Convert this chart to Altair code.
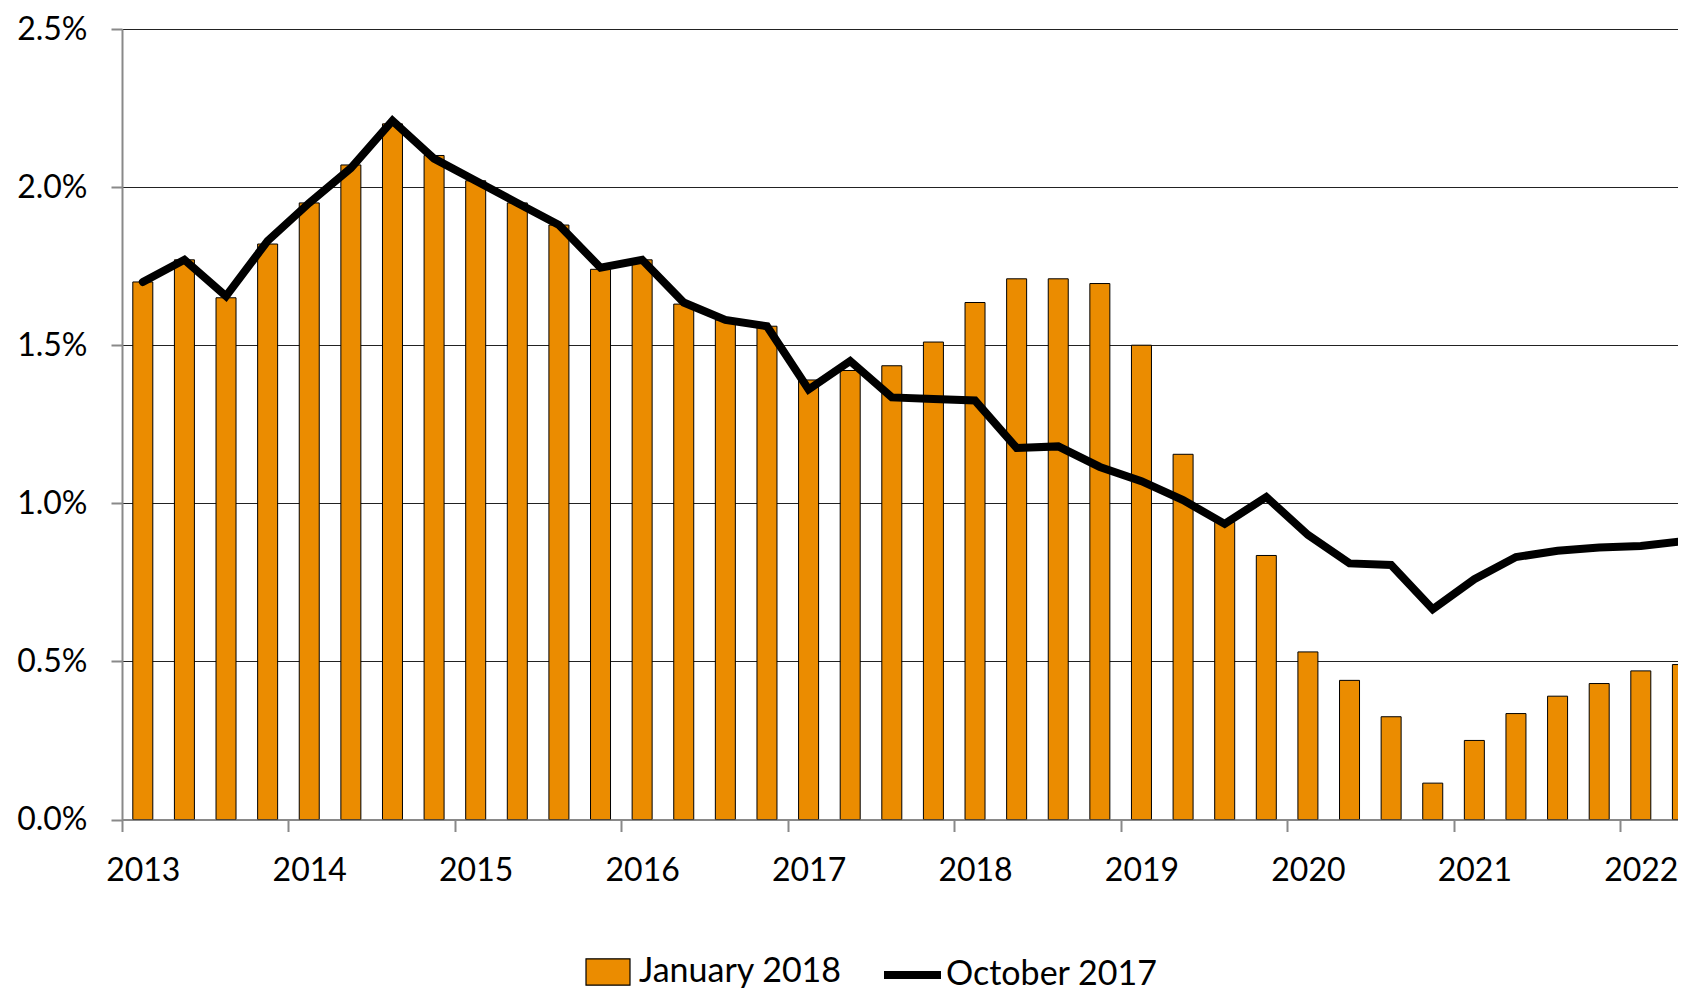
import altair as alt
import pandas as pd

# Quarterly categories 2013Q1 .. 2022Q2
quarters = ["2013Q1", "2013Q2", "2013Q3", "2013Q4",
            "2014Q1", "2014Q2", "2014Q3", "2014Q4",
            "2015Q1", "2015Q2", "2015Q3", "2015Q4",
            "2016Q1", "2016Q2", "2016Q3", "2016Q4",
            "2017Q1", "2017Q2", "2017Q3", "2017Q4",
            "2018Q1", "2018Q2", "2018Q3", "2018Q4",
            "2019Q1", "2019Q2", "2019Q3", "2019Q4",
            "2020Q1", "2020Q2", "2020Q3", "2020Q4",
            "2021Q1", "2021Q2", "2021Q3", "2021Q4",
            "2022Q1", "2022Q2"]

# January 2018 projection (bars), percent
jan_2018 = [1.70, 1.77, 1.65, 1.82,
            1.95, 2.07, 2.20, 2.10,
            2.02, 1.95, 1.88, 1.74,
            1.77, 1.63, 1.58, 1.56,
            1.39, 1.42, 1.435, 1.51,
            1.635, 1.71, 1.71, 1.695,
            1.50, 1.155, 0.94, 0.835,
            0.53, 0.44, 0.325, 0.115,
            0.25, 0.335, 0.39, 0.43,
            0.47, 0.49]

# October 2017 projection (line), percent
oct_2017 = [1.70, 1.77, 1.655, 1.83,
            1.95, 2.06, 2.21, 2.09,
            2.02, 1.95, 1.88, 1.745,
            1.77, 1.635, 1.58, 1.56,
            1.36, 1.45, 1.335, 1.33,
            1.325, 1.175, 1.18, 1.115,
            1.07, 1.01, 0.935, 1.02,
            0.90, 0.81, 0.805, 0.665,
            0.76, 0.83, 0.85, 0.86,
            0.865, 0.88]

year_labels = ["2013", "2014", "2015", "2016", "2017",
               "2018", "2019", "2020", "2021", "2022"]
y_ticks = [0.0, 0.5, 1.0, 1.5, 2.0, 2.5]

bar_name = "January 2018"
line_name = "October 2017"

df = pd.DataFrame({
    "quarter": quarters,
    "idx": list(range(len(quarters))),
    "jan": jan_2018,
    "oct": oct_2017,
    "bar_series": [bar_name] * len(quarters),
    "line_series": [line_name] * len(quarters),
})

FONT = "Lato"
FS = 32
LEG_FS = 34

# ticks sit on the boundary before each Q1; labels are centred on the Q1 bar
x_tick_vals = [4 * i - 0.5 for i in range(len(year_labels))]
label_arr = "[" + ",".join("'" + y + "'" for y in year_labels) + "]"

x_scale = alt.Scale(domain=[-0.5, 36.894], nice=False, zero=False, padding=0)
y_scale = alt.Scale(domain=[0, 2.5], nice=False, zero=True, padding=0)

x_enc = alt.X(
    "idx:Q", scale=x_scale, title=None,
    axis=alt.Axis(values=x_tick_vals, grid=False,
                  labelExpr=label_arr + "[round((datum.value + 0.5) / 4)]",
                  labelOffset=20.8, tickSize=12, labelPadding=24,
                  labelFlush=False, labelOverlap=False),
)
y_enc = alt.Y(
    "jan:Q", scale=y_scale, title=None,
    axis=alt.Axis(values=y_ticks, grid=True, tickSize=11, labelPadding=24,
                  labelExpr="format(datum.value, '.1f') + '%'"),
)

bars = alt.Chart(df).mark_bar(size=20, stroke="black", strokeWidth=1, clip=True).encode(
    x=x_enc,
    y=y_enc,
    fill=alt.Fill(
        "bar_series:N",
        scale=alt.Scale(domain=[bar_name], range=["#EB8C00"]),
        legend=alt.Legend(
            orient="none", legendX=463, legendY=920, title=None, padding=0,
            symbolType="M-1,-0.6H1V0.6H-1Z", symbolSize=1936,
            symbolStrokeColor="black", symbolStrokeWidth=1.2,
            symbolFillColor="#EB8C00", symbolOpacity=1,
            labelFont=FONT, labelFontSize=LEG_FS, labelColor="black", labelOffset=8,
            labelLimit=400,
        ),
    ),
)

line = alt.Chart(df).mark_line(strokeWidth=8, strokeCap="round", strokeJoin="miter",
                               clip=True).encode(
    x="idx:Q",
    y="oct:Q",
    stroke=alt.Stroke(
        "line_series:N",
        scale=alt.Scale(domain=[line_name], range=["black"]),
        legend=alt.Legend(
            orient="none", legendX=758, legendY=913.5, title=None, padding=0,
            symbolType="stroke", symbolSize=3249, symbolStrokeWidth=8,
            labelFont=FONT, labelFontSize=LEG_FS, labelColor="black", labelOffset=1,
            labelLimit=400,
        ),
    ),
)

chart = (
    alt.layer(bars, line)
    .properties(
        width=1556, height=790.5,
        autosize=alt.AutoSizeParams(type="none"),
        padding={"left": 114, "top": 21, "right": 0, "bottom": 171.5},
        background="white",
    )
    .configure_view(stroke=None)
    .configure_axis(
        labelFont=FONT, labelFontSize=FS, labelColor="black",
        domainColor="#898989", domainWidth=2,
        tickColor="#898989", tickWidth=2,
        gridColor="#222222", gridWidth=1,
    )
)

chart.save("out.html", embed_options={"renderer": "svg", "actions": False})
